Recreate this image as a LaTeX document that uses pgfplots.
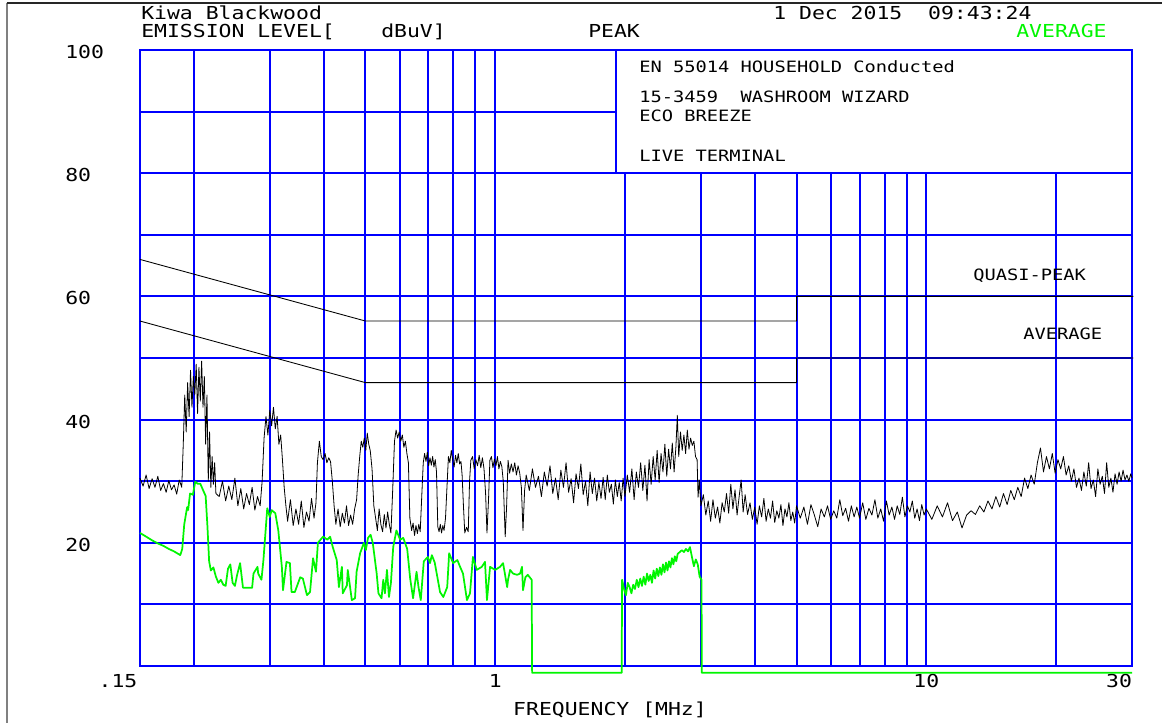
\documentclass[border=0pt]{standalone}
\usepackage{pgfplots}
\pgfplotsset{compat=1.18}
\usepackage{fontspec}
\setmainfont{DejaVu Sans Mono}[FakeStretch=1.2]
\definecolor{gridblue}{RGB}{0,0,255}
\definecolor{avggreen}{RGB}{0,245,0}
\newcommand\hdr{\fontsize{13.4}{16}\selectfont}
\newcommand\boxfont{\fontsize{11.7}{14}\selectfont}

% Peak detector scan (MHz, dBuV)
\pgfplotstableread{
f dB
0.1500 30.5
0.1525 29.2
0.1550 31.0
0.1575 28.8
0.1600 30.4
0.1625 29.0
0.1650 30.8
0.1675 28.5
0.1700 29.6
0.1725 28.2
0.1750 30.1
0.1775 28.6
0.1800 29.4
0.1825 27.9
0.1850 30.2
0.1875 29.0
0.1890 36.0
0.1905 44.0
0.1920 38.0
0.1935 46.0
0.1950 40.5
0.1965 48.0
0.1980 42.0
0.1995 47.0
0.2010 44.0
0.2025 49.0
0.2040 41.0
0.2055 48.5
0.2070 43.0
0.2085 49.5
0.2100 42.0
0.2115 47.0
0.2130 36.0
0.2145 44.0
0.2160 30.0
0.2175 38.0
0.2190 29.0
0.2205 34.0
0.2220 29.5
0.2235 33.0
0.2250 28.0
0.2290 27.5
0.2330 30.0
0.2370 26.8
0.2410 29.2
0.2450 27.0
0.2490 30.5
0.2530 26.0
0.2570 28.8
0.2610 25.5
0.2650 28.0
0.2690 26.2
0.2730 29.0
0.2770 25.3
0.2810 27.5
0.2850 26.0
0.2880 30.0
0.2910 37.0
0.2940 40.5
0.2970 37.5
0.3000 41.5
0.3030 39.0
0.3060 42.0
0.3090 38.5
0.3120 40.5
0.3150 36.0
0.3180 37.5
0.3210 33.5
0.3240 29.0
0.3270 26.0
0.3300 23.5
0.3350 27.0
0.3400 22.8
0.3450 25.5
0.3500 23.0
0.3550 26.8
0.3600 22.5
0.3650 25.0
0.3700 23.5
0.3750 27.2
0.3800 24.0
0.3840 26.5
0.3870 33.0
0.3910 36.5
0.3950 34.0
0.3990 33.5
0.4030 34.5
0.4070 33.0
0.4110 33.8
0.4150 33.2
0.4190 30.0
0.4230 26.0
0.4270 23.0
0.4320 25.5
0.4370 22.6
0.4420 24.8
0.4470 23.2
0.4520 26.0
0.4570 22.8
0.4620 24.5
0.4670 23.0
0.4720 25.5
0.4770 27.0
0.4810 31.0
0.4850 34.0
0.4890 36.5
0.4930 35.5
0.4970 37.0
0.5010 35.0
0.5050 37.8
0.5090 36.0
0.5130 35.0
0.5180 32.0
0.5230 26.0
0.5280 24.0
0.5330 22.0
0.5380 25.5
0.5430 23.0
0.5480 21.8
0.5530 24.6
0.5580 22.4
0.5630 25.0
0.5680 23.0
0.5730 21.6
0.5780 28.0
0.5840 36.5
0.5890 38.3
0.5940 37.0
0.5990 38.0
0.6040 36.5
0.6090 37.5
0.6140 35.5
0.6190 36.5
0.6240 34.5
0.6290 33.0
0.6340 24.0
0.6400 22.0
0.6450 23.2
0.6500 21.2
0.6550 22.8
0.6600 21.5
0.6650 23.0
0.6700 21.8
0.6760 28.0
0.6810 33.0
0.6860 34.5
0.6910 33.2
0.6960 34.7
0.7010 32.5
0.7060 33.8
0.7110 32.6
0.7160 34.0
0.7210 32.3
0.7260 33.5
0.7310 31.5
0.7360 22.6
0.7410 21.8
0.7460 23.0
0.7510 21.6
0.7560 22.8
0.7610 22.0
0.7670 24.0
0.7730 29.0
0.7790 34.0
0.7850 33.0
0.7910 35.0
0.7970 33.5
0.8030 32.3
0.8090 34.2
0.8150 33.0
0.8210 34.5
0.8270 32.8
0.8330 33.2
0.8380 31.0
0.8440 26.0
0.8500 21.6
0.8580 22.5
0.8660 21.8
0.8720 30.0
0.8780 33.4
0.8860 34.0
0.8940 32.0
0.9020 33.5
0.9100 32.5
0.9180 34.2
0.9260 32.2
0.9340 33.8
0.9420 32.0
0.9500 28.0
0.9570 21.6
0.9650 27.0
0.9720 33.4
0.9800 34.0
0.9880 32.2
0.9960 33.6
1.0040 32.5
1.0120 34.0
1.0200 32.0
1.0280 33.2
1.0360 32.4
1.0440 30.0
1.0550 21.0
1.0630 26.0
1.0710 33.4
1.0800 31.3
1.0900 32.8
1.1000 31.5
1.1100 33.0
1.1200 31.0
1.1300 32.5
1.1400 31.3
1.1500 29.0
1.1600 22.0
1.1700 28.5
1.1800 31.0
1.2000 28.5
1.2200 32.0
1.2400 29.0
1.2600 30.8
1.2800 27.5
1.3000 31.5
1.3200 29.2
1.3400 32.5
1.3600 28.0
1.3800 30.5
1.4000 27.0
1.4200 31.8
1.4400 29.0
1.4600 33.0
1.4800 28.2
1.5000 30.4
1.5200 26.5
1.5400 31.2
1.5600 28.8
1.5800 32.8
1.6000 27.8
1.6200 30.0
1.6400 26.0
1.6600 31.5
1.6800 28.0
1.7000 30.5
1.7200 26.8
1.7400 29.8
1.7600 27.2
1.7800 30.6
1.8000 27.0
1.8200 31.0
1.8400 28.2
1.8600 29.5
1.8800 26.3
1.9000 30.2
1.9200 27.5
1.9400 29.8
1.9600 26.8
1.9800 30.5
2.0000 27.5
2.0250 31.0
2.0500 28.2
2.0750 32.0
2.1000 27.0
2.1250 31.5
2.1500 29.0
2.1750 33.0
2.2000 28.5
2.2250 32.6
2.2500 26.8
2.2750 33.5
2.3000 29.5
2.3250 34.0
2.3500 30.2
2.3750 35.0
2.4000 29.8
2.4250 34.5
2.4500 31.5
2.4750 36.0
2.5000 30.8
2.5250 35.2
2.5500 32.0
2.5750 36.2
2.6000 31.5
2.6250 35.5
2.6450 40.7
2.6650 34.0
2.6900 38.0
2.7150 35.0
2.7400 37.5
2.7650 34.5
2.7900 38.3
2.8150 35.2
2.8400 37.0
2.8650 35.8
2.8900 36.5
2.9150 34.0
2.9400 33.5
2.9550 27.4
2.9750 30.2
3.0000 26.0
3.0400 27.8
3.0800 24.5
3.1200 26.8
3.1600 23.5
3.2000 27.0
3.2400 24.0
3.2800 25.8
3.3200 23.2
3.3600 26.5
3.4000 25.0
3.4400 28.0
3.4800 24.8
3.5200 29.5
3.5600 25.5
3.6000 28.6
3.6400 24.5
3.6800 27.5
3.7200 30.2
3.7600 25.0
3.8000 27.8
3.8500 24.6
3.9000 26.5
3.9500 23.8
4.0000 25.8
4.0500 23.0
4.1000 26.0
4.1500 24.2
4.2000 27.2
4.2500 23.5
4.3000 25.5
4.3500 24.0
4.4000 26.8
4.4500 23.3
4.5000 25.2
4.5500 24.0
4.6000 26.2
4.6500 22.8
4.7000 25.5
4.7500 24.2
4.8000 26.5
4.8500 23.6
4.9000 25.0
4.9500 23.2
5.0000 26.0
5.1000 24.0
5.2000 25.8
5.3000 23.0
5.4000 26.2
5.5000 24.5
5.6000 22.6
5.7000 25.5
5.8000 24.2
5.9000 26.0
6.0000 23.8
6.1000 25.2
6.2000 24.0
6.3000 27.0
6.4000 24.4
6.5000 25.6
6.6000 23.5
6.7000 26.0
6.8000 24.2
6.9000 25.8
7.0000 24.0
7.1200 26.5
7.2400 23.8
7.3600 25.6
7.4800 24.5
7.6000 27.0
7.7200 24.0
7.8400 25.5
7.9600 23.5
8.0800 26.8
8.2000 24.5
8.3200 25.8
8.4400 23.8
8.5600 26.0
8.6800 24.6
8.8000 27.4
8.9200 24.2
9.0400 26.0
9.1600 25.0
9.2800 26.8
9.4000 24.0
9.5200 25.5
9.6400 23.6
9.7600 26.2
9.8800 24.5
10.000 25.5
10.300 23.8
10.600 26.0
10.900 24.2
11.200 26.5
11.500 23.6
11.800 25.0
12.100 22.4
12.400 24.5
12.700 25.2
13.000 24.6
13.300 26.0
13.600 25.0
13.900 26.8
14.200 25.5
14.500 27.5
14.800 25.8
15.100 28.0
15.400 26.2
15.700 28.5
16.000 27.0
16.300 29.0
16.600 27.5
16.900 30.5
17.200 28.8
17.500 31.0
17.800 29.5
18.100 33.0
18.400 35.4
18.700 31.5
19.000 34.0
19.300 32.0
19.600 34.5
19.900 31.3
20.200 33.5
20.500 32.0
20.800 34.0
21.100 31.0
21.400 32.5
21.700 30.0
22.000 32.0
22.300 29.0
22.600 30.5
22.900 28.5
23.200 31.5
23.500 29.2
23.800 33.0
24.100 28.8
24.400 30.2
24.700 27.5
25.000 32.0
25.300 29.5
25.600 30.8
25.900 28.0
26.200 33.0
26.500 29.0
26.800 30.5
27.100 28.2
27.400 31.2
27.700 29.5
28.000 31.5
28.300 30.0
28.600 31.8
28.900 30.2
29.200 31.0
29.500 30.0
29.800 31.2
30.000 30.5
}\peakdata

% Average detector scan (MHz, dBuV)
\pgfplotstableread{
f dB
0.150 21.6
0.155 21.0
0.160 20.4
0.165 19.9
0.170 19.5
0.175 19.0
0.180 18.6
0.186 18.0
0.188 19.0
0.190 23.0
0.193 25.8
0.194 25.3
0.196 28.0
0.199 27.8
0.2015 29.9
0.204 29.6
0.207 29.6
0.209 28.9
0.213 27.6
0.215 22.8
0.217 17.0
0.219 15.5
0.222 16.0
0.225 14.5
0.228 13.5
0.231 14.0
0.234 13.2
0.237 13.0
0.240 15.8
0.243 16.5
0.246 13.5
0.249 13.0
0.252 14.8
0.256 16.7
0.260 12.7
0.266 12.7
0.273 12.7
0.275 15.0
0.281 16.1
0.282 15.0
0.287 14.0
0.290 17.2
0.296 25.6
0.300 24.2
0.303 25.3
0.309 24.8
0.314 22.0
0.320 16.1
0.322 12.3
0.328 16.9
0.334 16.7
0.337 12.0
0.343 12.0
0.353 14.4
0.358 14.2
0.366 11.5
0.372 12.0
0.378 17.5
0.384 15.3
0.388 20.0
0.399 21.0
0.408 20.5
0.414 21.0
0.420 19.3
0.429 17.2
0.434 12.8
0.441 16.1
0.443 11.8
0.453 13.1
0.455 15.6
0.465 10.7
0.473 11.0
0.477 15.3
0.486 18.3
0.496 20.0
0.501 18.8
0.507 20.8
0.514 21.3
0.520 20.0
0.531 15.0
0.536 11.8
0.545 11.0
0.550 14.0
0.555 11.8
0.561 15.6
0.567 11.2
0.573 13.5
0.580 19.3
0.590 22.0
0.602 20.5
0.612 20.8
0.625 19.0
0.635 14.2
0.645 11.0
0.657 15.3
0.664 12.8
0.672 10.7
0.683 17.0
0.698 17.7
0.706 16.7
0.713 18.0
0.724 16.8
0.745 12.0
0.758 11.2
0.774 12.8
0.782 18.3
0.799 16.7
0.817 17.2
0.829 16.1
0.842 15.0
0.860 10.7
0.874 11.8
0.888 17.7
0.906 15.6
0.931 16.1
0.947 16.9
0.957 10.7
0.973 16.1
1.000 15.6
1.026 16.1
1.043 16.7
1.066 12.8
1.071 14.0
1.083 15.6
1.100 15.0
1.124 14.8
1.142 15.0
1.154 16.1
1.160 12.3
1.175 14.4
1.190 14.8
1.215 14.0
1.218 -1.1
1.965 -1.1
1.970 14.0
1.990 12.5
2.010 11.5
2.030 13.5
2.050 12.8
2.070 11.8
2.090 13.2
2.110 12.5
2.130 14.0
2.150 12.8
2.170 14.2
2.190 13.0
2.210 14.5
2.230 13.2
2.250 15.0
2.270 13.8
2.290 14.8
2.310 13.5
2.330 15.5
2.350 14.2
2.370 15.8
2.390 14.6
2.410 16.0
2.430 14.8
2.450 16.5
2.470 15.2
2.490 16.8
2.510 15.5
2.530 17.0
2.550 16.0
2.570 17.5
2.590 16.5
2.610 17.8
2.630 17.0
2.650 18.2
2.680 18.5
2.710 18.8
2.740 18.5
2.770 19.0
2.800 18.6
2.830 19.3
2.860 17.7
2.890 16.2
2.920 17.3
2.950 16.5
2.980 14.5
3.010 14.0
3.015 -1.1
30.00 -1.1
}\avgdata

\begin{document}
\begin{tikzpicture}
\begin{scope}[x=0.75pt,y=0.75pt]
  \path[use as bounding box] (0,0) rectangle (1162,723);
  \draw[gray, line width=1.5pt] (6.5,0) -- (6.5,720);
  \draw[black!85, line width=0.8pt] (6.5,720) -- (1162,720);
\end{scope}
\begin{axis}[
  at={(105pt,42.75pt)}, anchor=south west,
  width=744pt, height=462pt, scale only axis,
  xmode=log, xmin=0.15, xmax=30, ymin=0, ymax=100,
  clip=false,
  xtick={0.15,1,10,30},
  xticklabels={\makebox[0pt][r]{.15\hspace{2pt}},1,10,\makebox[0pt][r]{30}},
  minor xtick={0.2,0.3,0.4,0.5,0.6,0.7,0.8,0.9,2,3,4,5,6,7,8,9,20},
  ytick={20,40,60,80,100},
  minor ytick={0,10,30,50,70,90},
  grid=both,
  major grid style={gridblue, line width=1.5pt},
  minor grid style={gridblue, line width=1.5pt},
  axis line style={gridblue, line width=1.5pt},
  major tick length=0pt, minor tick length=0pt,
  tick style={draw=none},
  /pgf/number format/assume math mode=true,
  xticklabel style={font=\hdr, inner sep=0pt, yshift=-6pt},
  yticklabel style={font=\hdr, anchor=west, inner sep=0pt, xshift=-56.25pt, yshift=-1.5pt},
]
  % header box in the upper right
  \draw[gridblue, line width=1.5pt, fill=white] (axis cs:1.908,80) rectangle (axis cs:30,100);
  % EN 55014 limit lines
  \addplot[black, line width=0.65pt] coordinates {(0.15,66) (0.5,56) (5,56) (5,60) (30.2,60)};
  \addplot[black, line width=0.65pt] coordinates {(0.15,56) (0.5,46) (5,46) (5,50) (30.2,50)};
  % measured traces
  \addplot[avggreen, line width=1.3pt, line join=round] table[x=f, y=dB] {\avgdata};
  \addplot[black, line width=0.6pt, line join=round] table[x=f, y=dB] {\peakdata};
\end{axis}
\begin{scope}[x=0.75pt,y=0.75pt, every node/.style={inner sep=0pt, anchor=base west}]
  \node[font=\hdr] at (141,703) {Kiwa Blackwood};
  \node[font=\hdr] at (141,685) {EMISSION LEVEL[};
  \node[font=\hdr] at (381,685) {dBuV]};
  \node[font=\hdr] at (588,685) {PEAK};
  \node[font=\hdr] at (773,703) {1 Dec 2015\ \ 09:43:24};
  \node[font=\hdr, text=avggreen] at (1016,685) {AVERAGE};
  \node[font=\boxfont] at (639,650) {EN 55014 HOUSEHOLD Conducted};
  \node[font=\boxfont] at (639,620) {15-3459\ \ WASHROOM WIZARD};
  \node[font=\boxfont] at (639,601) {ECO BREEZE};
  \node[font=\boxfont] at (639,561) {LIVE TERMINAL};
  \node[font=\boxfont] at (973,442) {QUASI-PEAK};
  \node[font=\boxfont] at (1023,383) {AVERAGE};
  \node[font=\hdr, anchor=base] at (610,7) {FREQUENCY [MHz]};
\end{scope}
\end{tikzpicture}
\end{document}
